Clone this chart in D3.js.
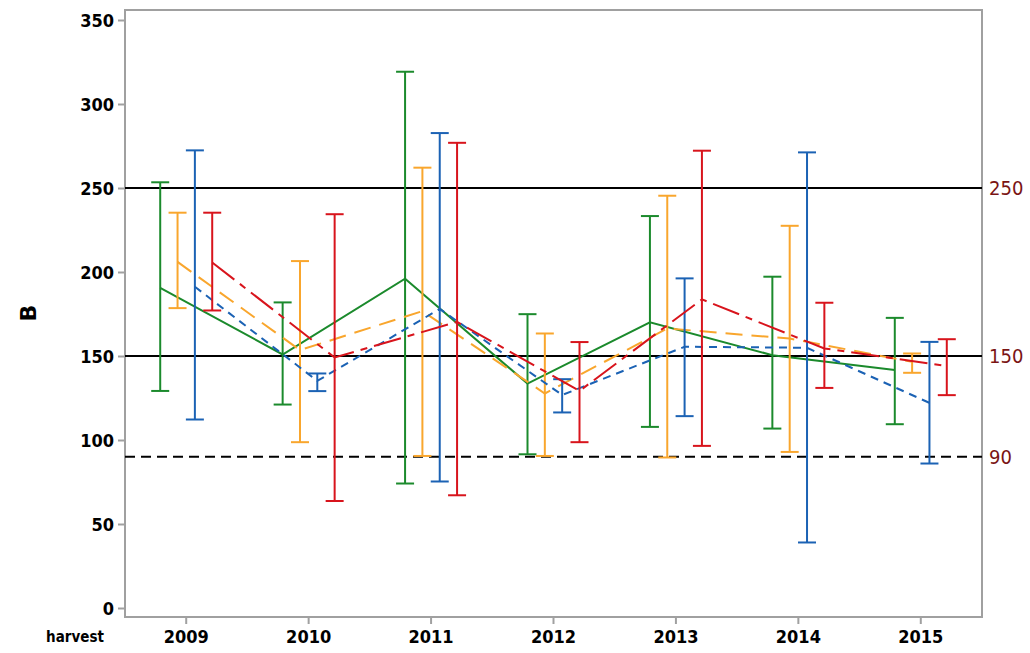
<!DOCTYPE html>
<html>
<head>
<meta charset="utf-8">
<script src="https://cdn.jsdelivr.net/npm/d3@7"></script>
<style>
  html, body { margin: 0; padding: 0; background: #fff; }
  svg { display: block; }
  .tick text { font-family: "DejaVu Sans", sans-serif; font-stretch: condensed; font-weight: bold; font-size: 18px; fill: #000; }
</style>
</head>
<body>
<svg id="chart" width="1030" height="653"></svg>
<script>
// ---- data ----
const years = ["2009", "2010", "2011", "2012", "2013", "2014", "2015"];
const seriesNames = ["green", "orange", "blue", "red"];
const seriesColors = ["#1b8a2c", "#f9a62d", "#1b62b4", "#d8141c"];
const seriesDash = ["none", "17,9", "8,6", "28,7,7,7"];

const greenMean  = [190.6, 150.9, 196.0, 133.6, 170.0, 150.5, 141.6];
const greenLow   = [129.2, 121.1,  74.1,  91.5, 107.8, 106.8, 109.4];
const greenHigh  = [253.4, 181.9, 319.2, 174.9, 233.3, 197.2, 172.7];

const orangeMean = [206.0, 153.5, 176.7, 127.7, 166.4, 160.4, 146.5];
const orangeLow  = [178.5,  98.7,  90.5,  90.5,  89.6,  92.9, 140.0];
const orangeHigh = [235.3, 206.5, 262.1, 163.4, 245.4, 227.5, 151.5];

const blueMean   = [191.2, 135.2, 178.0, 126.8, 155.5, 154.9, 122.1];
const blueLow    = [112.2, 129.1,  75.3, 116.4, 114.2,  39.0,  86.0];
const blueHigh   = [272.4, 139.6, 282.7, 136.2, 196.2, 271.2, 158.4];

const redMean    = [205.7, 149.1, 170.3, 129.2, 183.7, 154.5, 144.0];
const redLow     = [177.1,  63.7,  67.1,  98.7,  96.5, 131.0, 126.7];
const redHigh    = [235.3, 234.4, 276.9, 158.3, 272.2, 181.7, 160.0];

const yTicks = [0, 50, 100, 150, 200, 250, 300, 350];
const refSolid = [250, 150];
const refDashed = [90];
const refLabels = ["250", "150", "90"];
const refLabelValues = [250, 150, 90];
const yTitle = "B";
const xTitle = "harvest";

const series = [
  { mean: greenMean,  low: greenLow,  high: greenHigh },
  { mean: orangeMean, low: orangeLow, high: orangeHigh },
  { mean: blueMean,   low: blueLow,   high: blueHigh },
  { mean: redMean,    low: redLow,    high: redHigh }
];

// ---- layout ----
const L = 125, R = 982, T = 10, B = 617;
const svg = d3.select("#chart");

const x = d3.scaleBand().domain(years).range([L, R]).padding(0);
const off = d3.scalePoint().domain(seriesNames).range([-26, 26]);
const y = d3.scaleLinear().domain([0, 350]).range([608, 20]);
const cx = (yr, s) => x(yr) + x.bandwidth() / 2 + off(s);

// frame
svg.append("rect").attr("x", L).attr("y", T).attr("width", R - L).attr("height", B - T)
  .attr("fill", "none").attr("stroke", "#a0a0a0").attr("stroke-width", 2);

// y axis
const yAxis = svg.append("g").attr("transform", `translate(${L},0)`)
  .call(d3.axisLeft(y).tickValues(yTicks).tickSize(7).tickPadding(4));
yAxis.select(".domain").remove();
yAxis.selectAll(".tick line").attr("stroke", "#a0a0a0").attr("stroke-width", 2);
yAxis.selectAll(".tick text").attr("dy", "0.36em");

// x axis
const xAxis = svg.append("g").attr("transform", `translate(0,${B})`)
  .call(d3.axisBottom(x).tickSize(7).tickPadding(6));
xAxis.select(".domain").remove();
xAxis.selectAll(".tick line").attr("stroke", "#a0a0a0").attr("stroke-width", 2);

// titles
svg.append("text").attr("transform", "translate(36,313) rotate(-90)")
  .attr("text-anchor", "middle")
  .style("font-family", "DejaVu Sans, sans-serif").style("font-weight", "bold").style("font-size", "22px")
  .text(yTitle);
svg.append("text").attr("x", 75).attr("y", 642).attr("text-anchor", "middle")
  .style("font-family", "DejaVu Sans, sans-serif").style("font-stretch", "condensed")
  .style("font-weight", "bold").style("font-size", "15px")
  .text(xTitle);

// reference lines
svg.selectAll(".refs").data(refSolid).enter().append("line")
  .attr("x1", L).attr("x2", R).attr("y1", d => y(d)).attr("y2", d => y(d))
  .attr("stroke", "#000").attr("stroke-width", 2);
svg.selectAll(".refd").data(refDashed).enter().append("line")
  .attr("x1", L).attr("x2", R).attr("y1", d => y(d)).attr("y2", d => y(d))
  .attr("stroke", "#000").attr("stroke-width", 2).attr("stroke-dasharray", "10,6");
svg.selectAll(".reflab").data(refLabelValues).enter().append("text")
  .attr("x", 989).attr("y", d => y(d)).attr("dy", "0.36em")
  .style("font-family", "DejaVu Sans, sans-serif").style("font-stretch", "condensed")
  .style("font-size", "20px").style("fill", "#7a1414")
  .text((d, i) => refLabels[i]);

// series lines and error bars
const capW = 9;
series.forEach((s, si) => {
  const name = seriesNames[si];
  const color = seriesColors[si];
  const g = svg.append("g");
  years.forEach((yr, i) => {
    const px = cx(yr, name);
    g.append("line").attr("x1", px).attr("x2", px)
      .attr("y1", y(s.low[i])).attr("y2", y(s.high[i]))
      .attr("stroke", color).attr("stroke-width", 2);
    [s.low[i], s.high[i]].forEach(v => {
      g.append("line").attr("x1", px - capW).attr("x2", px + capW)
        .attr("y1", y(v)).attr("y2", y(v))
        .attr("stroke", color).attr("stroke-width", 2);
    });
  });
  const line = d3.line().x((d, i) => cx(years[i], name)).y(d => y(d));
  svg.append("path").datum(s.mean).attr("d", line)
    .attr("fill", "none").attr("stroke", color).attr("stroke-width", 2)
    .attr("stroke-dasharray", seriesDash[si] === "none" ? null : seriesDash[si]);
});
</script>
</body>
</html>
